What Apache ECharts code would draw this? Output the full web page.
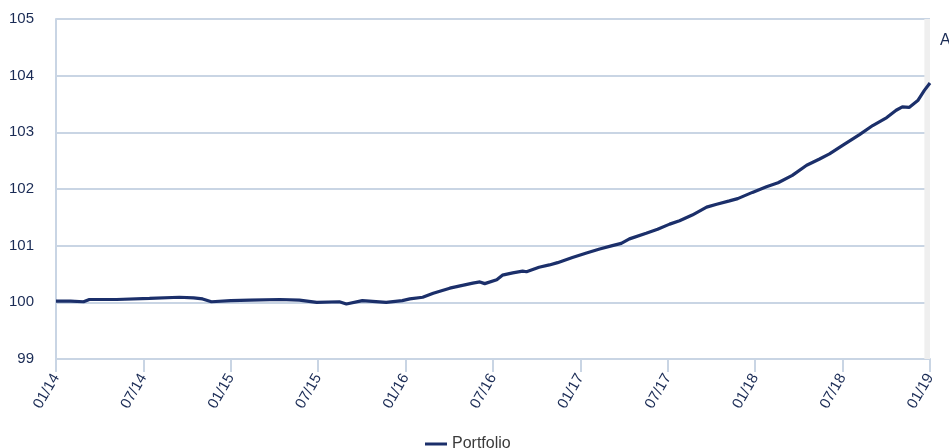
<!DOCTYPE html>
<html>
<head>
<meta charset="utf-8">
<script src="https://cdn.jsdelivr.net/npm/echarts@6/dist/echarts.min.js"></script>
<style>
html,body{margin:0;padding:0;background:#fff;}
#chart{width:949px;height:448px;}
</style>
</head>
<body>
<div id="chart"></div>
<script>
// Data
var dates = [
'2014-01-01','2014-02-01','2014-02-26','2014-03-10','2014-05-06','2014-07-14','2014-09-15','2014-10-15','2014-11-03','2014-11-21',
'2015-01-01','2015-02-10','2015-04-12','2015-05-23','2015-06-28','2015-08-15','2015-08-30','2015-10-02','2015-11-21','2015-12-25',
'2016-01-10','2016-02-06','2016-02-27','2016-04-02','2016-04-28','2016-05-20','2016-06-04','2016-06-14','2016-07-09','2016-07-21',
'2016-08-12','2016-09-02','2016-09-10','2016-10-06','2016-10-28','2016-11-14','2016-12-15','2017-01-14','2017-02-10','2017-03-07',
'2017-03-26','2017-04-12','2017-05-17','2017-06-10','2017-07-05','2017-07-26','2017-08-22','2017-09-21','2017-10-12','2017-11-08',
'2017-11-25','2017-12-26','2018-01-25','2018-02-17','2018-03-18','2018-04-17','2018-05-14','2018-06-04','2018-07-01','2018-08-06',
'2018-09-03','2018-10-02','2018-10-22','2018-11-04','2018-11-18','2018-12-06','2018-12-20','2019-01-01'
];
var portfolio = [
100.02,100.02,100.01,100.05,100.05,100.07,100.09,100.08,100.06,100.01,
100.03,100.04,100.05,100.04,100.00,100.01,99.97,100.03,100.00,100.03,
100.06,100.09,100.16,100.25,100.30,100.34,100.36,100.33,100.40,100.48,
100.52,100.55,100.54,100.62,100.66,100.70,100.79,100.87,100.94,101.00,
101.04,101.12,101.22,101.29,101.38,101.44,101.54,101.68,101.73,101.79,
101.83,101.94,102.04,102.11,102.24,102.42,102.53,102.62,102.77,102.96,
103.12,103.26,103.39,103.45,103.44,103.56,103.74,103.87
];
var seriesName = 'Portfolio';
var tickLabels = ['01/14','07/14','01/15','07/15','01/16','07/16','01/17','07/17','01/18','07/18','01/19'];
var startYear = 2014;
var bandStart = '2018-12-20';
var bandEnd = '2019-01-01';
var bandLabel = 'A';

function monthIndex(s) {
  var p = s.split('-');
  var y = +p[0], m = +p[1], d = +p[2];
  var dim = new Date(y, m, 0).getDate();
  return (y - startYear) * 12 + (m - 1) + (d - 1) / dim;
}

var seriesData = dates.map(function (d, i) { return [monthIndex(d), portfolio[i]]; });

var navy = '#1b2f6a';
var axisCol = '#c9d5e4';
var txt = '#1a2b55';
var font = '"Liberation Sans", Arial, Helvetica, sans-serif';

var chart = echarts.init(document.getElementById('chart'), null, {renderer: 'canvas'});
chart.setOption({
  animation: false,
  backgroundColor: '#fff',
  grid: {left: 56, right: 19, top: 19, bottom: 89, containLabel: false},
  xAxis: {
    type: 'value',
    min: 0, max: 60, interval: 6,
    axisLine: {show: true, lineStyle: {color: axisCol, width: 2}},
    axisTick: {show: true, length: 13, lineStyle: {color: axisCol, width: 2}},
    splitLine: {show: false},
    axisLabel: {
      rotate: 60, margin: 16, color: txt, fontSize: 15, fontFamily: font,
      formatter: function (v) { return tickLabels[Math.round(v / 6)]; }
    }
  },
  yAxis: {
    type: 'value',
    min: 99, max: 105, interval: 1,
    axisLine: {show: true, lineStyle: {color: axisCol, width: 2}},
    axisTick: {show: false},
    splitLine: {show: true, lineStyle: {color: axisCol, width: 2}},
    axisLabel: {margin: 22, color: txt, fontSize: 15, fontFamily: font}
  },
  legend: {
    data: [seriesName],
    left: 420, top: 431,
    icon: 'rect', itemWidth: 22, itemHeight: 3, itemGap: 10,
    textStyle: {color: '#3a3a3a', fontSize: 16, fontFamily: font}
  },
  series: [{
    name: seriesName,
    type: 'line',
    data: seriesData,
    showSymbol: false,
    symbol: 'none',
    lineStyle: {color: navy, width: 3.2},
    itemStyle: {color: navy},
    z: 3,
    markArea: {
      silent: true,
      itemStyle: {color: '#efefef'},
      label: {
        show: true, formatter: bandLabel, position: ['100%', 14], offset: [10, 0],
        color: txt, fontSize: 16, fontFamily: font
      },
      data: [[{xAxis: monthIndex(bandStart)}, {xAxis: monthIndex(bandEnd)}]]
    }
  }]
});
</script>
</body>
</html>
